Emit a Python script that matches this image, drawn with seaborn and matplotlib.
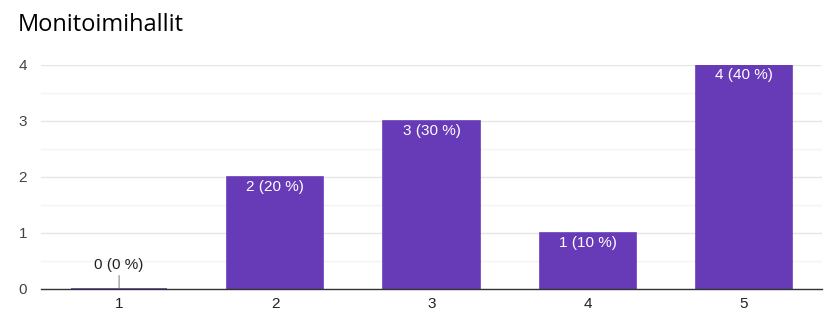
import matplotlib
matplotlib.use("Agg")
import matplotlib.pyplot as plt
import seaborn as sns
import pandas as pd
from matplotlib.ticker import MultipleLocator

categories = ["1", "2", "3", "4", "5"]
counts = [0, 2, 3, 1, 4]
percents = [0, 20, 30, 10, 40]
y_ticks = [0, 1, 2, 3, 4]
title = "Monitoimihallit"

BAR = "#673ab7"

sns.set_theme(style="white")
plt.rcParams["font.family"] = ["Liberation Sans", "DejaVu Sans"]

df = pd.DataFrame({"option": categories, "count": counts})

fig = plt.figure(figsize=(8.32, 3.26), dpi=100)
ax = fig.add_axes([41 / 832, 37 / 326, (822 - 41) / 832, (289 - 65) / 326])

sns.barplot(data=df, x="option", y="count", color=BAR, saturation=1,
            width=0.615, edgecolor=BAR, linewidth=1.2, ax=ax, zorder=3)

ax.set_xlim(-0.5, len(categories) - 0.5)
ax.set_ylim(0, max(y_ticks))
ax.set_yticks(y_ticks)
ax.yaxis.set_minor_locator(MultipleLocator(0.5))
ax.grid(axis="y", which="major", color="#e6e6e6", linewidth=1.0, zorder=0)
ax.grid(axis="y", which="minor", color="#f3f3f3", linewidth=1.0, zorder=0)
ax.grid(axis="x", visible=False)

for side in ("left", "right", "top"):
    ax.spines[side].set_visible(False)
ax.spines["bottom"].set_color("#333333")
ax.spines["bottom"].set_linewidth(1.0)
ax.spines["bottom"].set_zorder(4)

ax.tick_params(axis="y", which="both", length=0, pad=10, labelsize=11, labelcolor="#444444")
ax.tick_params(axis="x", length=0, pad=6, labelsize=11, labelcolor="#222222")
ax.set_xlabel("")
ax.set_ylabel("")

for i, (c, p) in enumerate(zip(counts, percents)):
    label = f"{c} ({p} %)"
    if c > 0:
        ax.annotate(label, xy=(i, c), xytext=(0, -2.5), textcoords="offset points",
                    ha="center", va="top", color="white", fontsize=11, zorder=5)
    else:
        ax.annotate(label, xy=(i, c), xytext=(0, 12), textcoords="offset points",
                    ha="center", va="bottom", color="#222222", fontsize=11, zorder=5,
                    arrowprops=dict(arrowstyle="-", color="#888888", lw=0.8,
                                    shrinkA=0, shrinkB=1))

fig.text(18 / 832, 1 - 31 / 326, title, fontsize=17, color="#000000",
         ha="left", va="baseline", family=["Open Sans", "DejaVu Sans"])

fig.savefig("out.png", dpi=100)
